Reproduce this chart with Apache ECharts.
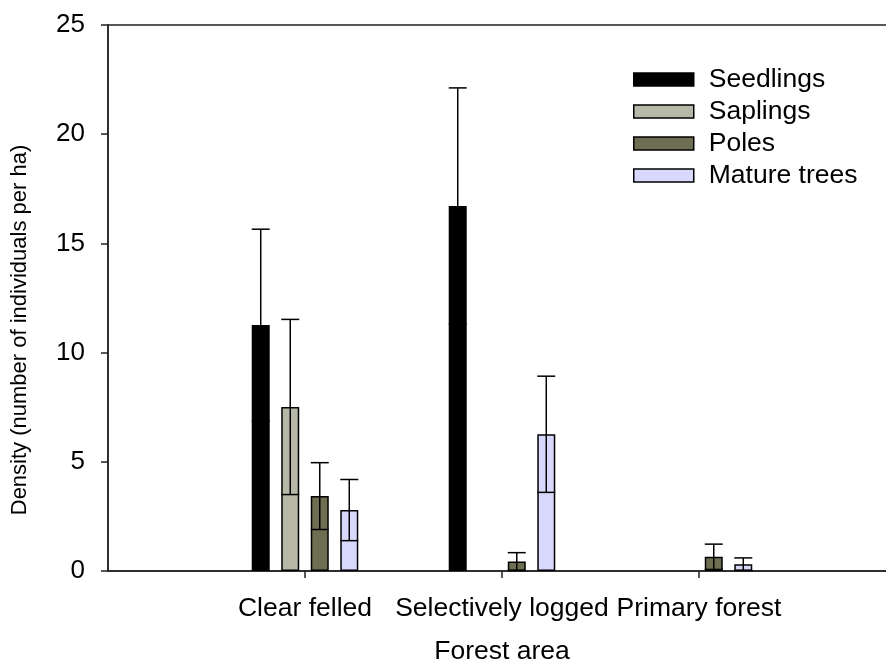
<!DOCTYPE html>
<html>
<head>
<meta charset="utf-8">
<script src="https://cdn.jsdelivr.net/npm/echarts@6/dist/echarts.min.js"></script>
<style>
html,body{margin:0;padding:0;background:#fff;}
#chart{width:886px;height:665px;}
</style>
</head>
<body>
<div id="chart"></div>
<script>
// ---- data ----
const categories = ['', 'Clear felled', 'Selectively logged', 'Primary forest', ''];
const seriesNames = ['Seedlings', 'Saplings', 'Poles', 'Mature trees'];
const seedlings = [null, 11.26, 16.71, null, null];
const seedlingsSE = [null, 4.39, 5.41, null, null];
const saplings = [null, 7.51, null, null, null];
const saplingsSE = [null, 4.01, null, null, null];
const poles = [null, 3.43, 0.43, 0.65, null];
const polesSE = [null, 1.53, 0.41, 0.58, null];
const mature = [null, 2.79, 6.26, 0.31, null];
const matureSE = [null, 1.40, 2.66, 0.29, null];
const yTicks = [0, 5, 10, 15, 20, 25];

const means = [seedlings, saplings, poles, mature];
const ses = [seedlingsSE, saplingsSE, polesSE, matureSE];
const colors = ['#000000', '#b8b8a8', '#6e6e52', '#d8d8fc'];

const BAR_W = 18;
const BAR_GAP = 0.64;
const PITCH = BAR_W * (1 + BAR_GAP);
const FONT = 'Liberation Sans, Arial, sans-serif';

const chart = echarts.init(document.getElementById('chart'), null, {renderer: 'canvas'});

const barSeries = seriesNames.map((name, i) => ({
  name: name,
  type: 'bar',
  data: means[i],
  barWidth: BAR_W,
  barGap: (BAR_GAP * 100) + '%',
  itemStyle: {color: colors[i], borderColor: '#000', borderWidth: 1.5},
  emphasis: {disabled: true},
  z: 2
}));

const errData = [];
for (let s = 0; s < 4; s++) {
  for (let c = 0; c < categories.length; c++) {
    if (means[s][c] != null && ses[s][c]) {
      errData.push([c, means[s][c], ses[s][c], s]);
    }
  }
}

const errSeries = {
  type: 'custom',
  data: errData,
  z: 5,
  silent: true,
  encode: {x: 0, y: 1},
  renderItem: function (params, api) {
    const c = api.value(0), m = api.value(1), se = api.value(2), s = api.value(3);
    const off = (s - 1.5) * PITCH;
    const hi = api.coord([c, m + se]);
    const lo = api.coord([c, m - se]);
    const x = hi[0] + off;
    const hw = BAR_W / 2;
    const style = {stroke: '#000', lineWidth: 1.5, fill: null};
    return {
      type: 'group',
      children: [
        {type: 'line', shape: {x1: x, y1: hi[1], x2: x, y2: lo[1]}, style: style},
        {type: 'line', shape: {x1: x - hw, y1: hi[1], x2: x + hw, y2: hi[1]}, style: style},
        {type: 'line', shape: {x1: x - hw, y1: lo[1], x2: x + hw, y2: lo[1]}, style: style}
      ]
    };
  }
};

chart.setOption({
  animation: false,
  backgroundColor: '#fff',
  textStyle: {fontFamily: FONT},
  grid: {left: 108, top: 25, width: 788, height: 546, outerBoundsMode: 'none', containLabel: false,
    show: true, borderColor: '#222', borderWidth: 1.5, backgroundColor: 'transparent'},
  legend: {
    orient: 'vertical',
    left: 628,
    top: 61,
    itemWidth: 60,
    itemHeight: 13,
    itemGap: 5,
    icon: 'rect',
    selectedMode: false,
    data: seriesNames,
    itemStyle: {borderColor: '#000', borderWidth: 1.5},
    textStyle: {fontSize: 26.5, color: '#000', fontFamily: FONT, padding: [0, 0, 0, 10]}
  },
  xAxis: {
    type: 'category',
    data: categories,
    boundaryGap: false,
    name: 'Forest area',
    nameLocation: 'middle',
    nameGap: 67,
    nameTextStyle: {fontSize: 26.5, color: '#000', fontFamily: FONT},
    axisLine: {lineStyle: {color: '#222', width: 1.5}},
    axisTick: {length: 7, lineStyle: {color: '#222', width: 1.5}, interval: function (i, v) { return v !== ''; }},
    axisLabel: {fontSize: 26.5, color: '#000', margin: 24, fontFamily: FONT, interval: 0},
    splitLine: {show: false}
  },
  yAxis: {
    type: 'value',
    min: 0,
    max: 25,
    interval: 5,
    name: 'Density (number of individuals per ha)',
    nameLocation: 'middle',
    nameGap: 77,
    nameTextStyle: {fontSize: 22, color: '#000', fontFamily: FONT, padding: [0, 64, 0, 0]},
    axisLine: {show: true, lineStyle: {color: '#222', width: 1.5}},
    axisTick: {show: true, length: 7, lineStyle: {color: '#222', width: 1.5}},
    axisLabel: {fontSize: 26, color: '#000', margin: 23, fontFamily: FONT,
      formatter: function (v) { return yTicks.indexOf(v) >= 0 ? String(v) : ''; }},
    splitLine: {show: false}
  },
  series: barSeries.concat([errSeries])
});
</script>
</body>
</html>
